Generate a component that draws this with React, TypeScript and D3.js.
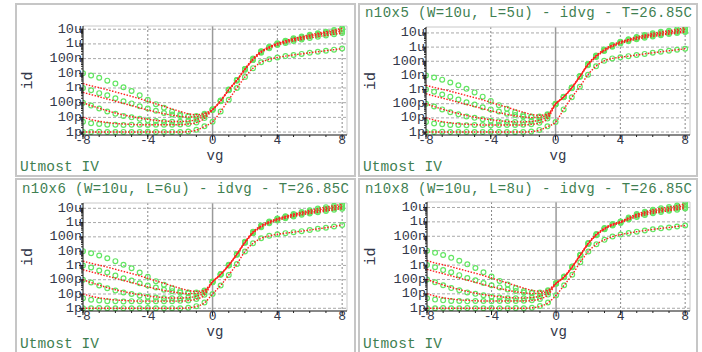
import React from 'react';
import * as d3 from 'd3';

// gate voltage grid (V)
const VG = [-8, -7.5, -7, -6.5, -6, -5.5, -5, -4.5, -4, -3.5, -3, -2.5, -2, -1.5, -1, -0.5,
  0, 0.5, 1, 1.5, 2, 2.5, 3, 3.5, 4, 4.5, 5, 5.5, 6, 6.5, 7, 7.5, 8];

// log10(id) for vg = -8 .. -0.5 (measured, shared look in all four panels)
const MEAS_NEG_C1 = [-12, -12, -11.98, -12, -12, -11.99, -12, -12, -11.98, -12, -12, -11.99, -12, -11.97, -11.85, -11.6];
const MEAS_NEG_C2 = [-11.3, -11.4, -11.45, -11.5, -11.5, -11.52, -11.5, -11.5, -11.52, -11.5, -11.5, -11.5, -11.48, -11.45, -11.35, -11.05];
const MEAS_NEG_C3 = [-10.0, -10.2, -10.4, -10.6, -10.75, -10.9, -11.0, -11.1, -11.2, -11.25, -11.3, -11.3, -11.3, -11.25, -11.15, -10.9];
const MEAS_NEG_C4 = [-9.0, -9.15, -9.35, -9.5, -9.7, -9.9, -10.05, -10.25, -10.4, -10.55, -10.7, -10.8, -10.9, -10.95, -10.95, -10.8];
const MEAS_NEG_C5 = [-8.0, -8.15, -8.3, -8.5, -8.7, -8.95, -9.2, -9.5, -9.8, -10.1, -10.35, -10.6, -10.8, -10.9, -10.9, -10.75];

// log10(id) for vg = -8 .. -0.5 (model)
const MODEL_NEG_C1 = [-12, -12, -12, -12, -12, -12, -12, -12, -12, -12, -12, -12, -12, -11.97, -11.87, -11.62];
const MODEL_NEG_C2 = [-11.0, -11.15, -11.27, -11.35, -11.42, -11.45, -11.48, -11.5, -11.5, -11.5, -11.5, -11.5, -11.5, -11.46, -11.36, -11.07];
const MODEL_NEG_C3 = [-10.0, -10.2, -10.38, -10.55, -10.7, -10.83, -10.95, -11.05, -11.13, -11.2, -11.25, -11.28, -11.28, -11.25, -11.15, -10.92];
const MODEL_NEG_C4 = [-9.3, -9.45, -9.6, -9.75, -9.9, -10.05, -10.2, -10.35, -10.5, -10.63, -10.75, -10.85, -10.93, -10.98, -10.95, -10.8];
const MODEL_NEG_C5 = [-8.7, -8.85, -8.98, -9.12, -9.27, -9.42, -9.57, -9.73, -9.9, -10.08, -10.25, -10.43, -10.6, -10.75, -10.82, -10.72];

// log10(id) for vg = 0 .. 8, per panel
const P1_C1 = [-11.3, -10.6, -9.8, -9.0, -8.25, -7.65, -7.25, -7.05, -6.92, -6.83, -6.75, -6.68, -6.6, -6.53, -6.46, -6.39, -6.32];
const P1_C2 = [-10.5, -9.9, -9.15, -8.5, -7.75, -7.1, -6.6, -6.3, -6.08, -5.93, -5.8, -5.7, -5.6, -5.51, -5.42, -5.34, -5.26];
const P1_C3 = [-10.48, -9.88, -9.13, -8.48, -7.73, -7.05, -6.55, -6.25, -6.01, -5.86, -5.72, -5.61, -5.5, -5.4, -5.31, -5.22, -5.13];
const P1_C4 = [-10.47, -9.87, -9.12, -8.46, -7.71, -7.02, -6.52, -6.22, -5.98, -5.82, -5.67, -5.55, -5.44, -5.33, -5.23, -5.13, -5.03];
const P1_C5 = [-10.45, -9.85, -9.1, -8.45, -7.7, -7.0, -6.5, -6.2, -5.95, -5.78, -5.62, -5.5, -5.38, -5.27, -5.17, -5.06, -4.93];

const P2_C1 = [-11.3, -10.4, -9.55, -8.8, -7.95, -7.35, -6.97, -6.8, -6.72, -6.64, -6.56, -6.48, -6.4, -6.33, -6.26, -6.19, -6.12];
const P2_C2 = [-10.05, -9.55, -8.9, -8.1, -7.28, -6.7, -6.28, -5.98, -5.75, -5.58, -5.45, -5.34, -5.25, -5.16, -5.08, -5.01, -4.94];
const P2_C3 = [-10.03, -9.53, -8.88, -8.08, -7.25, -6.66, -6.24, -5.93, -5.68, -5.52, -5.38, -5.27, -5.17, -5.09, -5.01, -4.93, -4.86];
const P2_C4 = [-10.02, -9.52, -8.87, -8.07, -7.22, -6.63, -6.2, -5.89, -5.65, -5.48, -5.33, -5.21, -5.1, -5.01, -4.93, -4.84, -4.75];
const P2_C5 = [-10.0, -9.5, -8.85, -8.05, -7.2, -6.6, -6.17, -5.85, -5.62, -5.45, -5.28, -5.15, -5.02, -4.92, -4.84, -4.75, -4.63];

const P3_C1 = [-11.0, -10.4, -9.67, -8.9, -8.03, -7.45, -7.1, -6.93, -6.82, -6.74, -6.67, -6.6, -6.52, -6.44, -6.36, -6.27, -6.17];
const P3_C2 = [-10.18, -9.65, -9.0, -8.25, -7.42, -6.75, -6.32, -6.05, -5.85, -5.7, -5.57, -5.46, -5.37, -5.28, -5.19, -5.11, -5.03];
const P3_C3 = [-10.16, -9.63, -8.99, -8.23, -7.39, -6.71, -6.28, -6.0, -5.78, -5.63, -5.5, -5.39, -5.29, -5.19, -5.1, -5.01, -4.93];
const P3_C4 = [-10.15, -9.62, -8.98, -8.22, -7.37, -6.68, -6.24, -5.96, -5.75, -5.59, -5.45, -5.33, -5.22, -5.12, -5.02, -4.93, -4.83];
const P3_C5 = [-10.13, -9.6, -8.96, -8.2, -7.35, -6.65, -6.2, -5.92, -5.72, -5.55, -5.4, -5.26, -5.14, -5.02, -4.92, -4.82, -4.72];

const P4_C1 = [-11.1, -10.4, -9.67, -8.8, -8.06, -7.55, -7.25, -7.02, -6.88, -6.78, -6.68, -6.6, -6.52, -6.45, -6.39, -6.32, -6.25];
const P4_C2 = [-10.3, -9.85, -9.15, -8.33, -7.53, -6.93, -6.52, -6.25, -6.07, -5.84, -5.66, -5.52, -5.4, -5.31, -5.23, -5.15, -5.07];
const P4_C3 = [-10.28, -9.83, -9.13, -8.31, -7.51, -6.9, -6.49, -6.21, -6.02, -5.79, -5.57, -5.43, -5.31, -5.23, -5.15, -5.06, -4.97];
const P4_C4 = [-10.27, -9.82, -9.12, -8.3, -7.49, -6.88, -6.46, -6.18, -6.0, -5.75, -5.52, -5.37, -5.24, -5.15, -5.07, -4.97, -4.87];
const P4_C5 = [-10.25, -9.8, -9.1, -8.28, -7.47, -6.85, -6.43, -6.15, -5.97, -5.7, -5.46, -5.3, -5.16, -5.06, -4.97, -4.87, -4.75];

const Y_TICK_VALUES = [1e-12, 1e-11, 1e-10, 1e-9, 1e-8, 1e-7, 1e-6, 1e-5];
const Y_TICK_LABELS = ['1p', '10p', '100p', '1n', '10n', '100n', '1u', '10u'];
const X_TICK_VALUES = [-8, -4, 0, 4, 8];
const X_TICK_LABELS = ['-8', '-4', '0', '4', '8'];
const X_GRID = [-4, 4, 8];

const TITLES = [
  '',
  'n10x5 (W=10u, L=5u) - idvg - T=26.85C',
  'n10x6 (W=10u, L=6u) - idvg - T=26.85C',
  'n10x8 (W=10u, L=8u) - idvg - T=26.85C',
];
const FOOTER = 'Utmost IV';

const MEAS_NEG = [MEAS_NEG_C1, MEAS_NEG_C2, MEAS_NEG_C3, MEAS_NEG_C4, MEAS_NEG_C5];
const MODEL_NEG = [MODEL_NEG_C1, MODEL_NEG_C2, MODEL_NEG_C3, MODEL_NEG_C4, MODEL_NEG_C5];
const POS = [
  [P1_C1, P1_C2, P1_C3, P1_C4, P1_C5],
  [P2_C1, P2_C2, P2_C3, P2_C4, P2_C5],
  [P3_C1, P3_C2, P3_C3, P3_C4, P3_C5],
  [P4_C1, P4_C2, P4_C3, P4_C4, P4_C5],
];

// layout (pixels)
const LAYOUT = [
  { frame: [16, 4, 355, 176], plot: [83, 26, 347, 135], yDom: [-12.2, -4.78], title: [365, 13], foot: [20, 167] },
  { frame: [359, 4, 697, 176], plot: [426, 27, 690, 135], yDom: [-12.21, -4.58], title: [365, 13], foot: [363, 167] },
  { frame: [16, 179, 355, 362], plot: [83, 203, 347, 311], yDom: [-12.19, -4.63], title: [22, 188.5], foot: [20, 343.5] },
  { frame: [359, 179, 697, 362], plot: [427, 202, 690, 311], yDom: [-12.19, -4.62], title: [365, 188.5], foot: [363, 343.5] },
];

const MONO = '"Liberation Mono", "DejaVu Sans Mono", monospace';
const GREEN_TEXT = '#3f7f52';
const LABEL = '#33384a';

function Panel({ idx }: { idx: number }) {
  const L = LAYOUT[idx];
  const [fl, ft, fr, fb] = L.frame;
  const [pl, pt, pr, pb] = L.plot;
  const x = d3.scaleLinear().domain([-8, 8.3]).range([pl, pr]);
  const y = d3.scaleLog().domain([Math.pow(10, L.yDom[0]), Math.pow(10, L.yDom[1])]).range([pb, pt]);
  const line = d3.line<[number, number]>().x(d => x(d[0])).y(d => y(d[1])).curve(d3.curveMonotoneX);

  const meas = MEAS_NEG.map((neg, i) => [...neg, ...POS[idx][i]].map((v, j) => [VG[j], Math.pow(10, v)] as [number, number]));
  const model = MODEL_NEG.map((neg, i) => [...neg, ...POS[idx][i]].map((v, j) => [VG[j], Math.pow(10, v)] as [number, number]));

  const minorY = y.ticks().filter(t => {
    const l = Math.log10(t);
    return Math.abs(l - Math.round(l)) > 1e-6;
  });
  const minorX = x.ticks(16).filter(t => t >= -8 && t <= 8);
  const clipId = `clip${idx}`;

  return (
    <g>
      <rect x={fl} y={ft} width={fr - fl} height={fb - ft} fill="white" stroke="#c6c6c6" strokeWidth={2} />
      {TITLES[idx] && (
        <text x={L.title[0]} y={L.title[1]} dominantBaseline="central" fontFamily={MONO} fontSize={14}
          fill={GREEN_TEXT} textLength={327} lengthAdjust="spacing">{TITLES[idx]}</text>
      )}
      <text x={L.foot[0]} y={L.foot[1]} dominantBaseline="central" fontFamily={MONO} fontSize={14.5}
        fill={GREEN_TEXT} textLength={79} lengthAdjust="spacing">{FOOTER}</text>

      <defs>
        <clipPath id={clipId}>
          <rect x={pl} y={pt} width={pr - pl} height={pb - pt} />
        </clipPath>
      </defs>

      {/* grid */}
      {Y_TICK_VALUES.map((t, i) => (
        <line key={'gy' + i} x1={pl} x2={pr} y1={y(t)} y2={y(t)} stroke="#a8a8a8" strokeWidth={1} strokeDasharray="3,2" />
      ))}
      {X_GRID.map((t, i) => (
        <line key={'gx' + i} x1={x(t)} x2={x(t)} y1={pt} y2={pb} stroke="#888" strokeWidth={1} strokeDasharray="2,2" />
      ))}
      <line x1={x(0)} x2={x(0)} y1={pt} y2={pb} stroke="#9a9a9a" strokeWidth={1.5} />

      {/* frame */}
      <line x1={pl} x2={pr} y1={pt} y2={pt} stroke="#c8c8c8" strokeWidth={1} />
      <line x1={pr} x2={pr} y1={pt} y2={pb} stroke="#c8c8c8" strokeWidth={1} />

      <g clipPath={`url(#${clipId})`}>
        {meas.map((c, i) => (
          <g key={'m' + i}>
            {c.map((d, j) => (
              <circle key={j} cx={x(d[0])} cy={y(d[1])} r={2.4} fill="none" stroke="#63e663" strokeWidth={1.2} />
            ))}
          </g>
        ))}
        {model.map((c, i) => (
          <path key={'r' + i} d={line(c) || ''} fill="none" stroke="#ff1f1f" strokeWidth={1.4} strokeDasharray="1.5,1.5" />
        ))}
      </g>

      {/* axes */}
      <line x1={pl} x2={pl} y1={pt} y2={pb} stroke="#111" strokeWidth={1} />
      <line x1={pl} x2={pr} y1={pb} y2={pb} stroke="#111" strokeWidth={1} />
      {minorY.map((t, i) => (
        <line key={'my' + i} x1={pl - 2} x2={pl} y1={y(t)} y2={y(t)} stroke="#222" strokeWidth={1} />
      ))}
      {Y_TICK_VALUES.map((t, i) => (
        <g key={'ty' + i}>
          <line x1={pl - 4} x2={pl} y1={y(t)} y2={y(t)} stroke="#111" strokeWidth={1} />
          <text x={pl - 1} y={y(t)} textAnchor="end" dominantBaseline="central" fontFamily={MONO}
            fontSize={13.5} fill={LABEL}>{Y_TICK_LABELS[i]}</text>
        </g>
      ))}
      {minorX.map((t, i) => (
        <line key={'mx' + i} x1={x(t)} x2={x(t)} y1={pb} y2={pb + 2} stroke="#222" strokeWidth={1} />
      ))}
      {X_TICK_VALUES.map((t, i) => (
        <g key={'tx' + i}>
          <line x1={x(t)} x2={x(t)} y1={pb} y2={pb + 4} stroke="#111" strokeWidth={1} />
          <text x={x(t)} y={pb + 5} textAnchor="middle" dominantBaseline="central" fontFamily={MONO}
            fontSize={13} fill={LABEL}>{X_TICK_LABELS[i]}</text>
        </g>
      ))}
      <text x={(pl + pr) / 2} y={pb + 20.5} textAnchor="middle" dominantBaseline="central" fontFamily={MONO}
        fontSize={14} fill={LABEL}>vg</text>
      <text transform={`translate(${fl + 12},${(pt + pb) / 2}) rotate(-90)`} textAnchor="middle"
        dominantBaseline="central" fontFamily={MONO} fontSize={15} fill={LABEL}>id</text>
    </g>
  );
}

export default function App() {
  return (
    <svg width={702} height={352} style={{ position: 'absolute', left: 0, top: 0, background: 'white' }}>
      <rect x={0} y={0} width={702} height={352} fill="white" />
      {LAYOUT.map((_, i) => <Panel key={i} idx={i} />)}
    </svg>
  );
}
